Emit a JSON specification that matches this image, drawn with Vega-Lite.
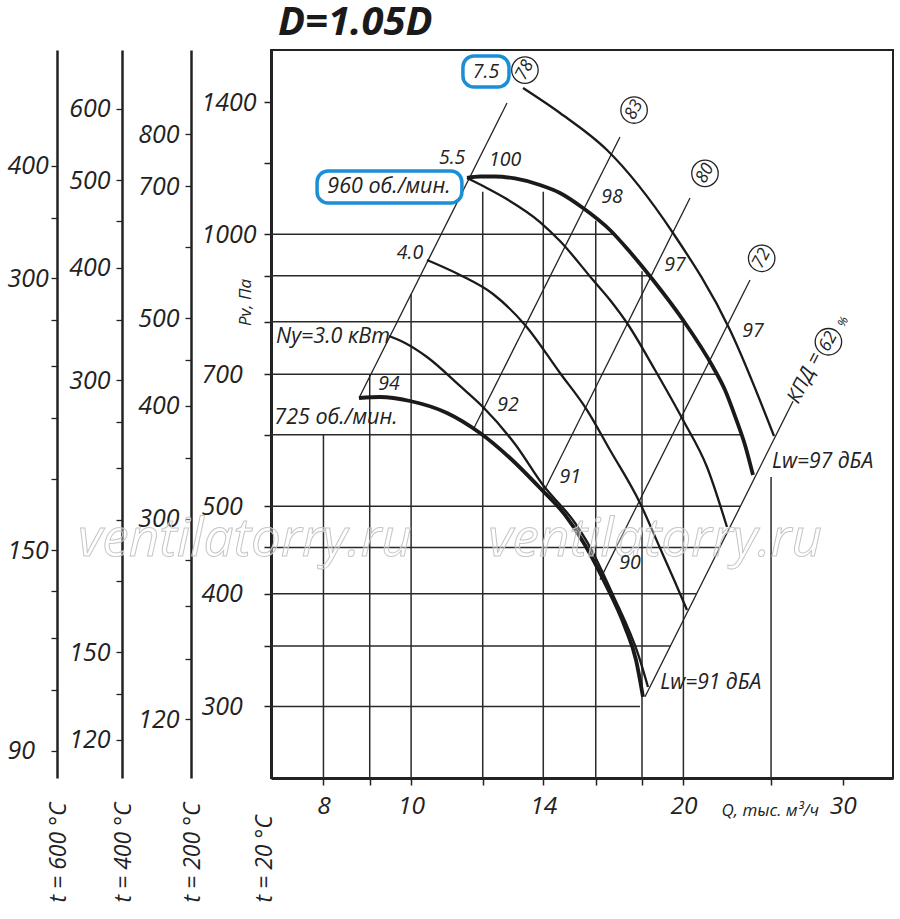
{
  "$schema": "https://vega.github.io/schema/vega-lite/v6.json",
  "width": 622,
  "height": 728,
  "autosize": "none",
  "padding": {"left": 271, "top": 50, "right": 7, "bottom": 141},
  "background": "white",
  "config": {
    "view": {"stroke": "#222", "strokeWidth": 2},
    "axis": {"labelFont": "Open Sans", "labelFontStyle": "italic", "labelColor": "#222", "titleFont": "Open Sans", "titleFontStyle": "italic", "titleFontWeight": "normal", "titleColor": "#222", "domainColor": "#222", "tickColor": "#222", "grid": false, "labelFlush": false, "labelOverlap": false, "labelBound": false},
    "text": {"font": "Open Sans", "fontStyle": "italic", "fontSize": 19.5, "color": "#222"}
  },
  "datasets": {
    "hgrid": [
      {"P": 1000, "Q": 7, "Q2": 16.76}, {"P": 900, "Q": 7, "Q2": 18.32}, {"P": 800, "Q": 7, "Q2": 20.03},
      {"P": 700, "Q": 7, "Q2": 21.73}, {"P": 600, "Q": 7, "Q2": 23.16}, {"P": 500, "Q": 7, "Q2": 23.12},
      {"P": 450, "Q": 7, "Q2": 21.94}, {"P": 400, "Q": 7, "Q2": 20.68}, {"P": 350, "Q": 7, "Q2": 19.35},
      {"P": 300, "Q": 7, "Q2": 17.91}
    ],
    "vgrid": [
      {"Q": 8, "P": 250, "P2": 600}, {"Q": 9, "P": 250, "P2": 700}, {"Q": 10, "P": 250, "P2": 858.5},
      {"Q": 12, "P": 250, "P2": 1115}, {"Q": 14, "P": 250, "P2": 1115}, {"Q": 16, "P": 250, "P2": 1035},
      {"Q": 18, "P": 250, "P2": 910}, {"Q": 20, "P": 250, "P2": 808}, {"Q": 25, "P": 250, "P2": 538.6}
    ],
    "eff": [
      {"k": "78", "Q": 8.758, "P": 658.8, "Q2": 12.765, "P2": 1397.7},
      {"k": "83", "Q": 11.706, "P": 607.2, "Q2": 17.019, "P2": 1281.7},
      {"k": "80", "Q": 13.99, "P": 517.1, "Q2": 20.339, "P2": 1097.1},
      {"k": "72", "Q": 16.174, "P": 414.6, "Q2": 23.695, "P2": 889.9},
      {"k": "62", "Q": 18.138, "P": 307.6, "Q2": 26.436, "P2": 653.4}
    ],
    "curves": [
      {"c": "725", "Q": 8.758, "P": 658.8}, {"c": "725", "Q": 9.239, "P": 660.5}, {"c": "725", "Q": 9.972, "P": 653.8},
      {"c": "725", "Q": 10.957, "P": 634.1}, {"c": "725", "Q": 11.917, "P": 602.5}, {"c": "725", "Q": 12.863, "P": 565.3},
      {"c": "725", "Q": 13.883, "P": 523.7}, {"c": "725", "Q": 14.796, "P": 488.9}, {"c": "725", "Q": 15.568, "P": 452.9},
      {"c": "725", "Q": 16.381, "P": 411.1}, {"c": "725", "Q": 17.237, "P": 367.4}, {"c": "725", "Q": 17.727, "P": 337.8},
      {"c": "725", "Q": 18.045, "P": 307.4},
      {"c": "3.0", "Q": 9.453, "P": 771.6}, {"c": "3.0", "Q": 9.846, "P": 758.0}, {"c": "3.0", "Q": 10.413, "P": 731.4},
      {"c": "3.0", "Q": 11.325, "P": 679.3}, {"c": "3.0", "Q": 12.008, "P": 643.8}, {"c": "3.0", "Q": 13.027, "P": 585.9},
      {"c": "3.0", "Q": 13.99, "P": 527.7}, {"c": "3.0", "Q": 15.177, "P": 479.0}, {"c": "3.0", "Q": 15.768, "P": 450.6},
      {"c": "3.0", "Q": 16.719, "P": 398.7}, {"c": "3.0", "Q": 17.863, "P": 340.4}, {"c": "3.0", "Q": 18.276, "P": 315.3},
      {"c": "4.0", "Q": 10.413, "P": 936.6}, {"c": "4.0", "Q": 11.325, "P": 901.5}, {"c": "4.0", "Q": 12.318, "P": 858.8},
      {"c": "4.0", "Q": 13.363, "P": 793.6}, {"c": "4.0", "Q": 14.608, "P": 702.2}, {"c": "4.0", "Q": 15.648, "P": 638.9},
      {"c": "4.0", "Q": 16.591, "P": 577.0}, {"c": "4.0", "Q": 17.908, "P": 504.0}, {"c": "4.0", "Q": 18.843, "P": 449.4},
      {"c": "4.0", "Q": 19.577, "P": 412.1}, {"c": "4.0", "Q": 20.184, "P": 383.7},
      {"c": "5.5", "Q": 11.529, "P": 1154.5}, {"c": "5.5", "Q": 12.069, "P": 1128.2}, {"c": "5.5", "Q": 12.7, "P": 1097.1},
      {"c": "5.5", "Q": 13.883, "P": 1031.9}, {"c": "5.5", "Q": 14.608, "P": 983.1}, {"c": "5.5", "Q": 15.889, "P": 890.0},
      {"c": "5.5", "Q": 16.591, "P": 845.8}, {"c": "5.5", "Q": 17.325, "P": 797.6}, {"c": "5.5", "Q": 18.605, "P": 707.5},
      {"c": "5.5", "Q": 19.98, "P": 622.9}, {"c": "5.5", "Q": 21.238, "P": 552.5}, {"c": "5.5", "Q": 22.347, "P": 474.1},
      {"c": "960", "Q": 11.529, "P": 1154.5}, {"c": "960", "Q": 11.917, "P": 1158.9}, {"c": "960", "Q": 12.38, "P": 1158.9},
      {"c": "960", "Q": 13.027, "P": 1153.0}, {"c": "960", "Q": 13.883, "P": 1134.0}, {"c": "960", "Q": 14.608, "P": 1111.1},
      {"c": "960", "Q": 15.489, "P": 1069.4}, {"c": "960", "Q": 16.591, "P": 1011.1}, {"c": "960", "Q": 17.458, "P": 955.9},
      {"c": "960", "Q": 18.511, "P": 890.0}, {"c": "960", "Q": 19.98, "P": 803.7}, {"c": "960", "Q": 21.565, "P": 713.0},
      {"c": "960", "Q": 22.234, "P": 672.3}, {"c": "960", "Q": 22.807, "P": 629.1}, {"c": "960", "Q": 23.395, "P": 584.4},
      {"c": "960", "Q": 23.876, "P": 541.3},
      {"c": "7.5", "Q": 13.295, "P": 1452.2}, {"c": "7.5", "Q": 14.608, "P": 1362.5}, {"c": "7.5", "Q": 16.465, "P": 1239.8},
      {"c": "7.5", "Q": 19.478, "P": 1003.4}, {"c": "7.5", "Q": 22.519, "P": 783.5}, {"c": "7.5", "Q": 25.188, "P": 598.0}
    ],
    "boxes": [
      {"Q": 11.41, "Q2": 12.83, "P": 1456, "P2": 1576},
      {"Q": 7.871, "Q2": 11.38, "P": 1083, "P2": 1175}
    ],
    "nums": [
      {"t": "5.5", "Q": 11.1, "P": 1214.6}, {"t": "4.0", "Q": 9.972, "P": 953.5},
      {"t": "94", "Q": 9.454, "P": 682.8}, {"t": "100", "Q": 12.7, "P": 1208.4},
      {"t": "98", "Q": 16.68, "P": 1100}, {"t": "97", "Q": 19.58, "P": 924.8},
      {"t": "97", "Q": 23.88, "P": 781.4}, {"t": "92", "Q": 12.8, "P": 647.1},
      {"t": "91", "Q": 14.99, "P": 538.5}, {"t": "90", "Q": 17.46, "P": 432.5},
      {"t": "7.5", "Q": 12.1, "P": 1512}
    ],
    "names": [
      {"t": "Ny=3.0 кВт", "Q": 8.197, "P": 769.6}, {"t": "725 об./мин.", "Q": 8.259, "P": 625.9},
      {"t": "960 об./мин.", "Q": 9.454, "P": 1128.3}
    ],
    "lw": [
      {"t": "Lw=97 дБА", "Q": 25.06, "P": 559.6},
      {"t": "Lw=91 дБА", "Q": 18.85, "P": 318.6}
    ],
    "kpd": [
      {"t": "78", "Q": 13.36, "P": 1520}, {"t": "83", "Q": 17.64, "P": 1373},
      {"t": "80", "Q": 21.13, "P": 1168}, {"t": "72", "Q": 24.41, "P": 940.7},
      {"t": "62", "Q": 28.93, "P": 760.4}
    ],
    "kpdtext": [{"t": "КПД =", "Q": 27.26, "P": 693.3}],
    "pct": [{"t": "%", "Q": 30.01, "P": 800.4}],
    "heading": [{"t": "D=1.05D", "Q": 7.126, "P": 1662}],
    "wm": [
      {"t": "ventilatorry.ru", "Q": 6.55, "P": 458.6},
      {"t": "ventilatorry.ru", "Q": 18.61, "P": 458.6}
    ]
  },
  "layer": [
    {
      "encoding": {
        "x": {"field": "Q", "type": "quantitative", "scale": {"type": "log", "domain": [7, 34.1], "nice": false},
          "axis": {"orient": "bottom", "values": [8, 9, 10, 12, 14, 16, 18, 20, 25, 30], "format": "d",
            "labelExpr": "indexof([8,10,14,20,30], datum.value) >= 0 ? datum.label : ''",
            "tickSize": 7, "tickWidth": 1.5, "domainWidth": 3, "labelFontSize": 24.5, "labelPadding": 9,
            "title": "Q, тыс. м³/ч", "titleFontSize": 17, "titleX": 450, "titleY": 37, "titleAlign": "left", "titleBaseline": "alphabetic", "titleAngle": 0}},
        "y": {"field": "P", "type": "quantitative", "scale": {"type": "log", "domain": [250, 1600], "nice": false},
          "axis": {"orient": "left", "values": [1400, 1200, 1000, 900, 800, 700, 600, 500, 450, 400, 350, 300], "format": "d",
            "labelExpr": "indexof([1400,1000,700,500,400,300], datum.value) >= 0 ? datum.label : ''",
            "tickSize": 7, "tickWidth": 1.5, "domainWidth": 3, "labelFontSize": 25, "labelAlign": "left", "labelPadding": 63,
            "title": "Pv, Па", "titleFontSize": 17, "titleX": -26, "titleY": 252, "titleAlign": "center", "titleBaseline": "middle", "titleAngle": 270}}
      },
      "layer": [
        {"data": {"name": "hgrid"}, "mark": {"type": "rule", "color": "#2a2a2a", "strokeWidth": 1.5}, "encoding": {"x2": {"field": "Q2"}}},
        {"data": {"name": "vgrid"}, "mark": {"type": "rule", "color": "#2a2a2a", "strokeWidth": 1.5}, "encoding": {"y2": {"field": "P2"}}},
        {"data": {"name": "eff"}, "mark": {"type": "rule", "color": "#222", "strokeWidth": 1.3}, "encoding": {"x2": {"field": "Q2"}, "y2": {"field": "P2"}}},
        {"data": {"name": "curves"}, "transform": [{"filter": {"field": "c", "oneOf": ["3.0", "4.0", "5.5", "7.5"]}}],
          "mark": {"type": "line", "color": "#1a1a1a", "strokeWidth": 2.3, "interpolate": "monotone"}, "encoding": {"detail": {"field": "c"}}},
        {"data": {"name": "curves"}, "transform": [{"filter": {"field": "c", "oneOf": ["725", "960"]}}],
          "mark": {"type": "line", "color": "#1a1a1a", "strokeWidth": 3.8, "interpolate": "monotone"}, "encoding": {"detail": {"field": "c"}}},
        {"data": {"name": "wm"}, "mark": {"type": "text", "align": "center", "baseline": "middle", "fontSize": 53, "fill": "white", "fillOpacity": 0.35, "stroke": "#c6c6c6", "strokeWidth": 1}, "encoding": {"text": {"field": "t"}}},
        {"data": {"name": "boxes"}, "mark": {"type": "rect", "fill": "white", "stroke": "#1a8fd6", "strokeWidth": 3.5, "cornerRadius": 11}, "encoding": {"x2": {"field": "Q2"}, "y2": {"field": "P2"}}},
        {"data": {"name": "nums"}, "mark": {"type": "text", "align": "center", "baseline": "middle"}, "encoding": {"text": {"field": "t"}}},
        {"data": {"name": "names"}, "mark": {"type": "text", "align": "center", "baseline": "middle", "fontSize": 21.5}, "encoding": {"text": {"field": "t"}}},
        {"data": {"name": "lw"}, "mark": {"type": "text", "align": "left", "baseline": "middle", "fontSize": 21}, "encoding": {"text": {"field": "t"}}},
        {"data": {"name": "kpd"}, "mark": {"type": "point", "shape": "circle", "size": 700, "filled": true, "fill": "white", "stroke": "#222", "strokeWidth": 1.3, "opacity": 1}},
        {"data": {"name": "kpd"}, "mark": {"type": "text", "align": "center", "baseline": "middle", "angle": -62, "fontSize": 17.5}, "encoding": {"text": {"field": "t"}}},
        {"data": {"name": "kpdtext"}, "mark": {"type": "text", "align": "center", "baseline": "middle", "angle": -63, "fontSize": 20}, "encoding": {"text": {"field": "t"}}},
        {"data": {"name": "pct"}, "mark": {"type": "text", "align": "center", "baseline": "middle", "angle": -63, "fontSize": 12}, "encoding": {"text": {"field": "t"}}},
        {"data": {"name": "heading"}, "mark": {"type": "text", "align": "left", "baseline": "alphabetic", "fontSize": 40, "fontWeight": "bold", "color": "#1a1a1a"}, "encoding": {"text": {"field": "t"}}}
      ]
    },
    {
      "data": {"values": [{"v": 200}]},
      "mark": {"type": "rule", "opacity": 0},
      "encoding": {"y": {"field": "v", "type": "quantitative", "scale": {"type": "log", "domain": [83.906, 537.0], "nice": false},
        "axis": {"orient": "left", "offset": 214, "values": [400, 350, 300, 270, 240, 210, 180, 150, 135, 120, 105, 90], "format": "d",
          "labelExpr": "indexof([400,300,150,90], datum.value) >= 0 ? datum.label : ''",
          "domainWidth": 2.5, "tickSize": 6, "tickWidth": 1.3, "labelFontSize": 25, "labelAlign": "left", "labelPadding": 44,
          "title": "t = 600 °C", "titleFontSize": 23, "titleX": 1, "titleY": 852, "titleAlign": "left", "titleBaseline": "middle", "titleAngle": 270}}}
    },
    {
      "data": {"values": [{"v": 200}]},
      "mark": {"type": "rule", "opacity": 0},
      "encoding": {"y": {"field": "v", "type": "quantitative", "scale": {"type": "log", "domain": [108.841, 696.58], "nice": false},
        "axis": {"orient": "left", "offset": 149, "values": [600, 500, 450, 400, 350, 300, 270, 240, 210, 180, 150, 135, 120], "format": "d",
          "labelExpr": "indexof([600,500,400,300,150,120], datum.value) >= 0 ? datum.label : ''",
          "domainWidth": 2.5, "tickSize": 6, "tickWidth": 1.3, "labelFontSize": 25, "labelPadding": 6,
          "title": "t = 400 °C", "titleFontSize": 23, "titleX": 1, "titleY": 852, "titleAlign": "left", "titleBaseline": "middle", "titleAngle": 270}}}
    },
    {
      "data": {"values": [{"v": 300}]},
      "mark": {"type": "rule", "opacity": 0},
      "encoding": {"y": {"field": "v", "type": "quantitative", "scale": {"type": "log", "domain": [154.862, 991.12], "nice": false},
        "axis": {"orient": "left", "offset": 80, "values": [800, 700, 600, 500, 450, 400, 350, 300, 270, 240, 210, 180], "format": "d",
          "labelExpr": "datum.value == 180 ? '120' : (indexof([800,700,500,400,300], datum.value) >= 0 ? datum.label : '')",
          "domainWidth": 2.5, "tickSize": 6, "tickWidth": 1.3, "labelFontSize": 25, "labelPadding": 6,
          "title": "t = 200 °C", "titleFontSize": 23, "titleX": 1, "titleY": 852, "titleAlign": "left", "titleBaseline": "middle", "titleAngle": 270}}}
    },
    {
      "data": {"values": [{"v": 500}]},
      "mark": {"type": "rule", "opacity": 0},
      "encoding": {"y": {"field": "v", "type": "quantitative", "scale": {"type": "log", "domain": [250, 1600], "nice": false},
        "axis": {"orient": "left", "offset": 0, "labels": false, "ticks": false, "domain": false,
          "title": "t = 20 °C", "titleFontSize": 23, "titleX": -7, "titleY": 852, "titleAlign": "left", "titleBaseline": "middle", "titleAngle": 270}}}
    }
  ],
  "resolve": {"scale": {"y": "independent"}, "axis": {"y": "independent"}}
}
